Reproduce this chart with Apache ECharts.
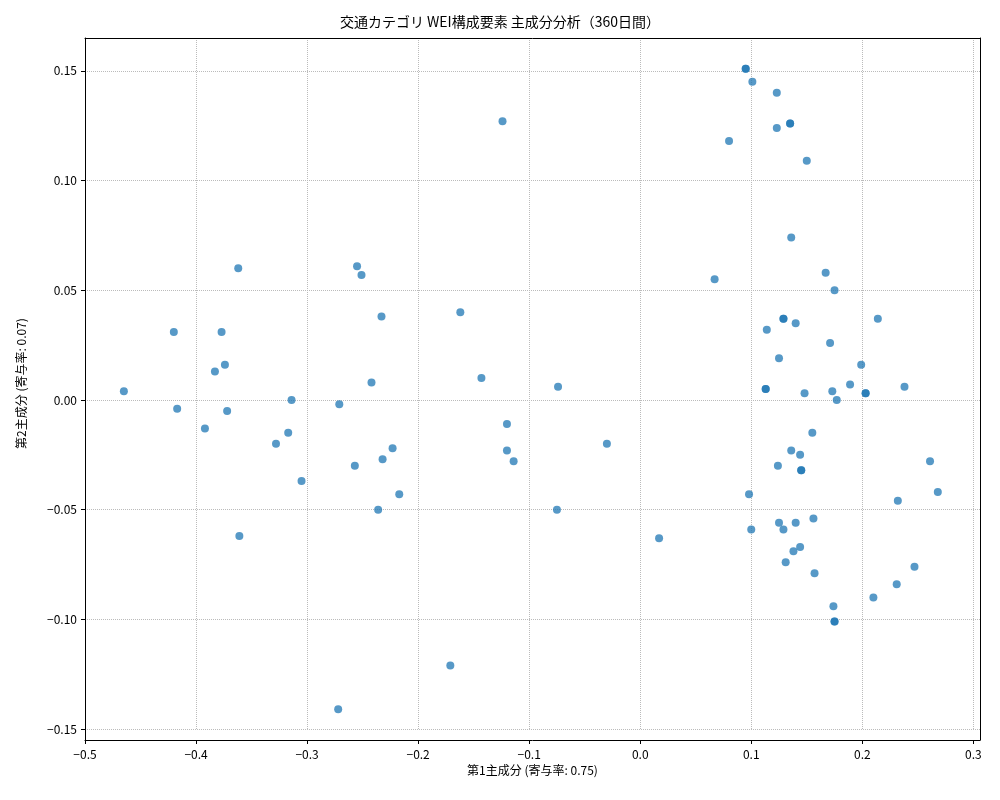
<!DOCTYPE html>
<html><head><meta charset="utf-8">
<script src="https://cdn.jsdelivr.net/npm/echarts@6/dist/echarts.min.js"></script>
<style>body{margin:0}#c{width:1000px;height:800px}</style></head>
<body><div id="c"></div>
<script>
const pc1 = [0.095,0.095,0.101,0.123,0.135,0.135,0.123,0.080,0.150,-0.124,0.136,0.067,0.167,0.175,-0.362,-0.255,-0.251,-0.162,-0.233,-0.420,-0.377,0.129,0.129,0.214,0.114,0.140,0.171,-0.374,-0.383,0.125,0.199,-0.143,-0.242,-0.074,0.113,0.113,0.189,0.238,0.173,0.148,0.203,0.203,0.177,-0.465,-0.314,-0.417,-0.372,-0.271,-0.392,-0.317,-0.328,-0.120,-0.030,-0.120,-0.223,0.155,0.136,0.144,-0.114,-0.232,-0.257,0.124,0.145,0.145,0.261,-0.305,-0.217,0.098,0.268,0.232,-0.236,-0.075,0.125,0.140,0.156,0.100,0.129,-0.361,0.017,0.144,0.138,0.131,0.157,0.247,0.231,0.210,0.174,0.175,0.175,-0.171,-0.272];
const pc2 = [0.151,0.151,0.145,0.140,0.126,0.126,0.124,0.118,0.109,0.127,0.074,0.055,0.058,0.050,0.060,0.061,0.057,0.040,0.038,0.031,0.031,0.037,0.037,0.037,0.032,0.035,0.026,0.016,0.013,0.019,0.016,0.010,0.008,0.006,0.005,0.005,0.007,0.006,0.004,0.003,0.003,0.003,0.000,0.004,0.000,-0.004,-0.005,-0.002,-0.013,-0.015,-0.020,-0.011,-0.020,-0.023,-0.022,-0.015,-0.023,-0.025,-0.028,-0.027,-0.030,-0.030,-0.032,-0.032,-0.028,-0.037,-0.043,-0.043,-0.042,-0.046,-0.050,-0.050,-0.056,-0.056,-0.054,-0.059,-0.059,-0.062,-0.063,-0.067,-0.069,-0.074,-0.079,-0.076,-0.084,-0.090,-0.094,-0.101,-0.101,-0.121,-0.141];
const data = pc1.map((x,i)=>[x,pc2[i]]);
const F = "'Noto Sans CJK JP', sans-serif";
const xfmt = v=>{const r=Math.round(v*10); return Math.abs(v*10-r)>1e-6?'':(r/10).toFixed(1).replace('-','−');};
const ax = (name,min,max,iv,fmt,gap,extra)=>Object.assign({type:'value',gridIndex:0,name,nameLocation:'middle',nameGap:gap,min,max,interval:iv,
  nameTextStyle:{color:'#000',fontSize:12,fontFamily:F},
  axisLine:{show:false,onZero:false},axisTick:{show:true,length:4,lineStyle:{color:'#000'}},
  axisLabel:{color:'#000',fontSize:12,fontFamily:F,formatter:fmt,showMaxLabel:false},
  splitLine:{lineStyle:{color:'#bbb',type:'dotted'}}},extra||{});
const frame = (pos)=>({type:'value',gridIndex:1,position:pos,min:0,max:1,axisLine:{show:true,onZero:false,lineStyle:{color:'#000'}},axisTick:{show:false},axisLabel:{show:false},splitLine:{show:false}});
const chart = echarts.init(document.getElementById('c'));
chart.setOption({
  title:{text:'交通カテゴリ WEI構成要素 主成分分析（360日間）',left:'center',top:10,textStyle:{fontSize:14,fontWeight:'normal',color:'#000',fontFamily:F}},
  grid:[{left:85,right:20,top:38,bottom:71},{left:85,right:20,top:38,bottom:60}],
  xAxis:[ax('第1主成分 (寄与率: 0.75)',-0.5,0.306,0.1,xfmt,22,{offset:11}),frame('bottom'),frame('top')],
  yAxis:[ax('第2主成分 (寄与率: 0.07)',-0.15,0.165,0.05,v=>v.toFixed(2).replace('-','−'),58),frame('left'),frame('right')],
  series:[{type:'scatter',xAxisIndex:0,yAxisIndex:0,data,symbolSize:8,itemStyle:{color:'#1f77b4',opacity:0.75}}]
});
</script></body></html>
